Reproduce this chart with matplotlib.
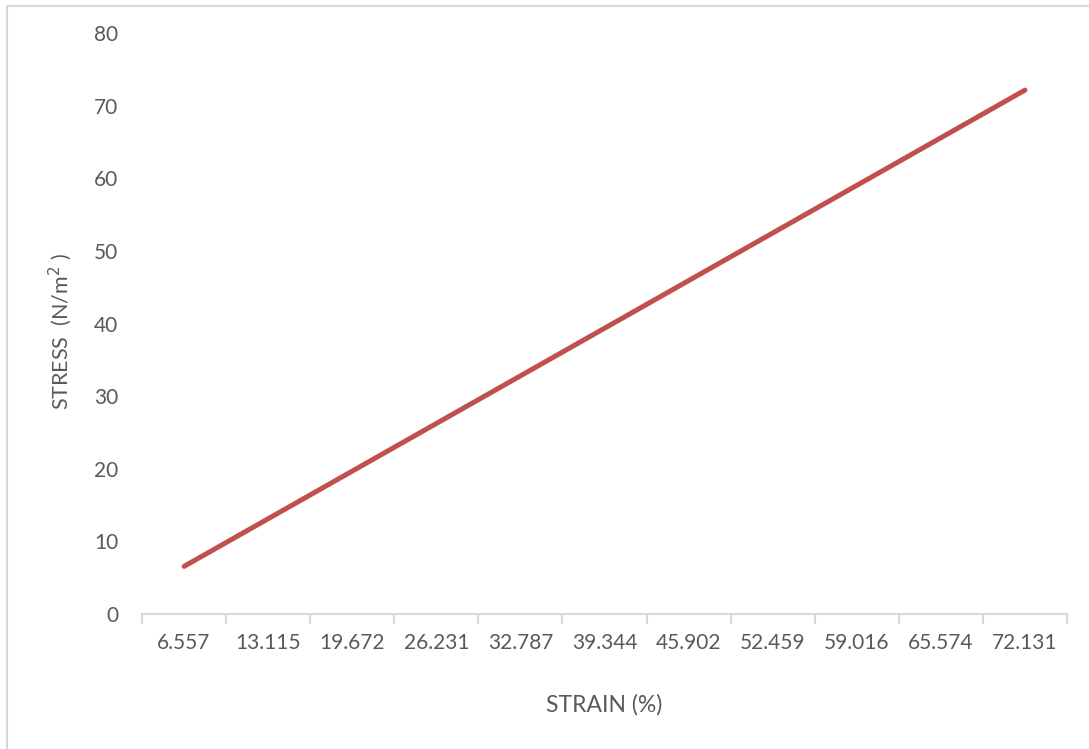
import matplotlib.pyplot as plt
from matplotlib.patches import Rectangle

strain = [6.557, 13.115, 19.672, 26.231, 32.787, 39.344, 45.902, 52.459, 59.016, 65.574, 72.131]
stress = [6.557, 13.115, 19.672, 26.231, 32.787, 39.344, 45.902, 52.459, 59.016, 65.574, 72.131]
strain_labels = ["6.557", "13.115", "19.672", "26.231", "32.787", "39.344",
                 "45.902", "52.459", "59.016", "65.574", "72.131"]

plt.rcParams['font.family'] = ['Lato', 'DejaVu Sans']
text_col = '#595959'
axis_col = '#D9D9D9'

W, H = 1089, 749
fig = plt.figure(figsize=(W / 100, H / 100), dpi=100)

# chart frame
fig.patches.append(Rectangle((7 / W, -0.1), 1.2, 1.1 - 6 / H, transform=fig.transFigure,
                             fill=False, edgecolor=axis_col, linewidth=1.5))

ax = fig.add_axes([142 / W, (H - 614) / H, (1067 - 142) / W, (614 - 33) / H])

pos = list(range(len(strain)))
ax.plot(pos, stress, color='#C0504D', linewidth=3.6, solid_capstyle='round')

ax.set_xlim(-0.5, len(pos) - 0.5)
ax.set_ylim(0, 80)
ax.set_yticks(range(0, 81, 10))

ax.set_xticks(pos)
ax.set_xticklabels(strain_labels)
ax.set_xticks([p - 0.5 for p in pos] + [len(pos) - 0.5], minor=True)
ax.tick_params(axis='x', which='major', length=0, pad=14, labelsize=15, labelcolor=text_col)
ax.tick_params(axis='x', which='minor', length=7, width=1.5, color=axis_col)
ax.tick_params(axis='y', length=0, pad=17, labelsize=15, labelcolor=text_col)

for s in ['top', 'right', 'left']:
    ax.spines[s].set_visible(False)
ax.spines['bottom'].set_color(axis_col)
ax.spines['bottom'].set_linewidth(1.5)

fig.text(604 / W, 1 - 705 / H, 'STRAIN (%)', ha='center', va='center', fontsize=16.5, color=text_col)
fig.text(60 / W, 1 - 332 / H, 'STRESS  (N/m$^2$ )', ha='center', va='center', rotation=90,
         fontsize=15.5, color=text_col)

fig.savefig('out.png', dpi=100)
